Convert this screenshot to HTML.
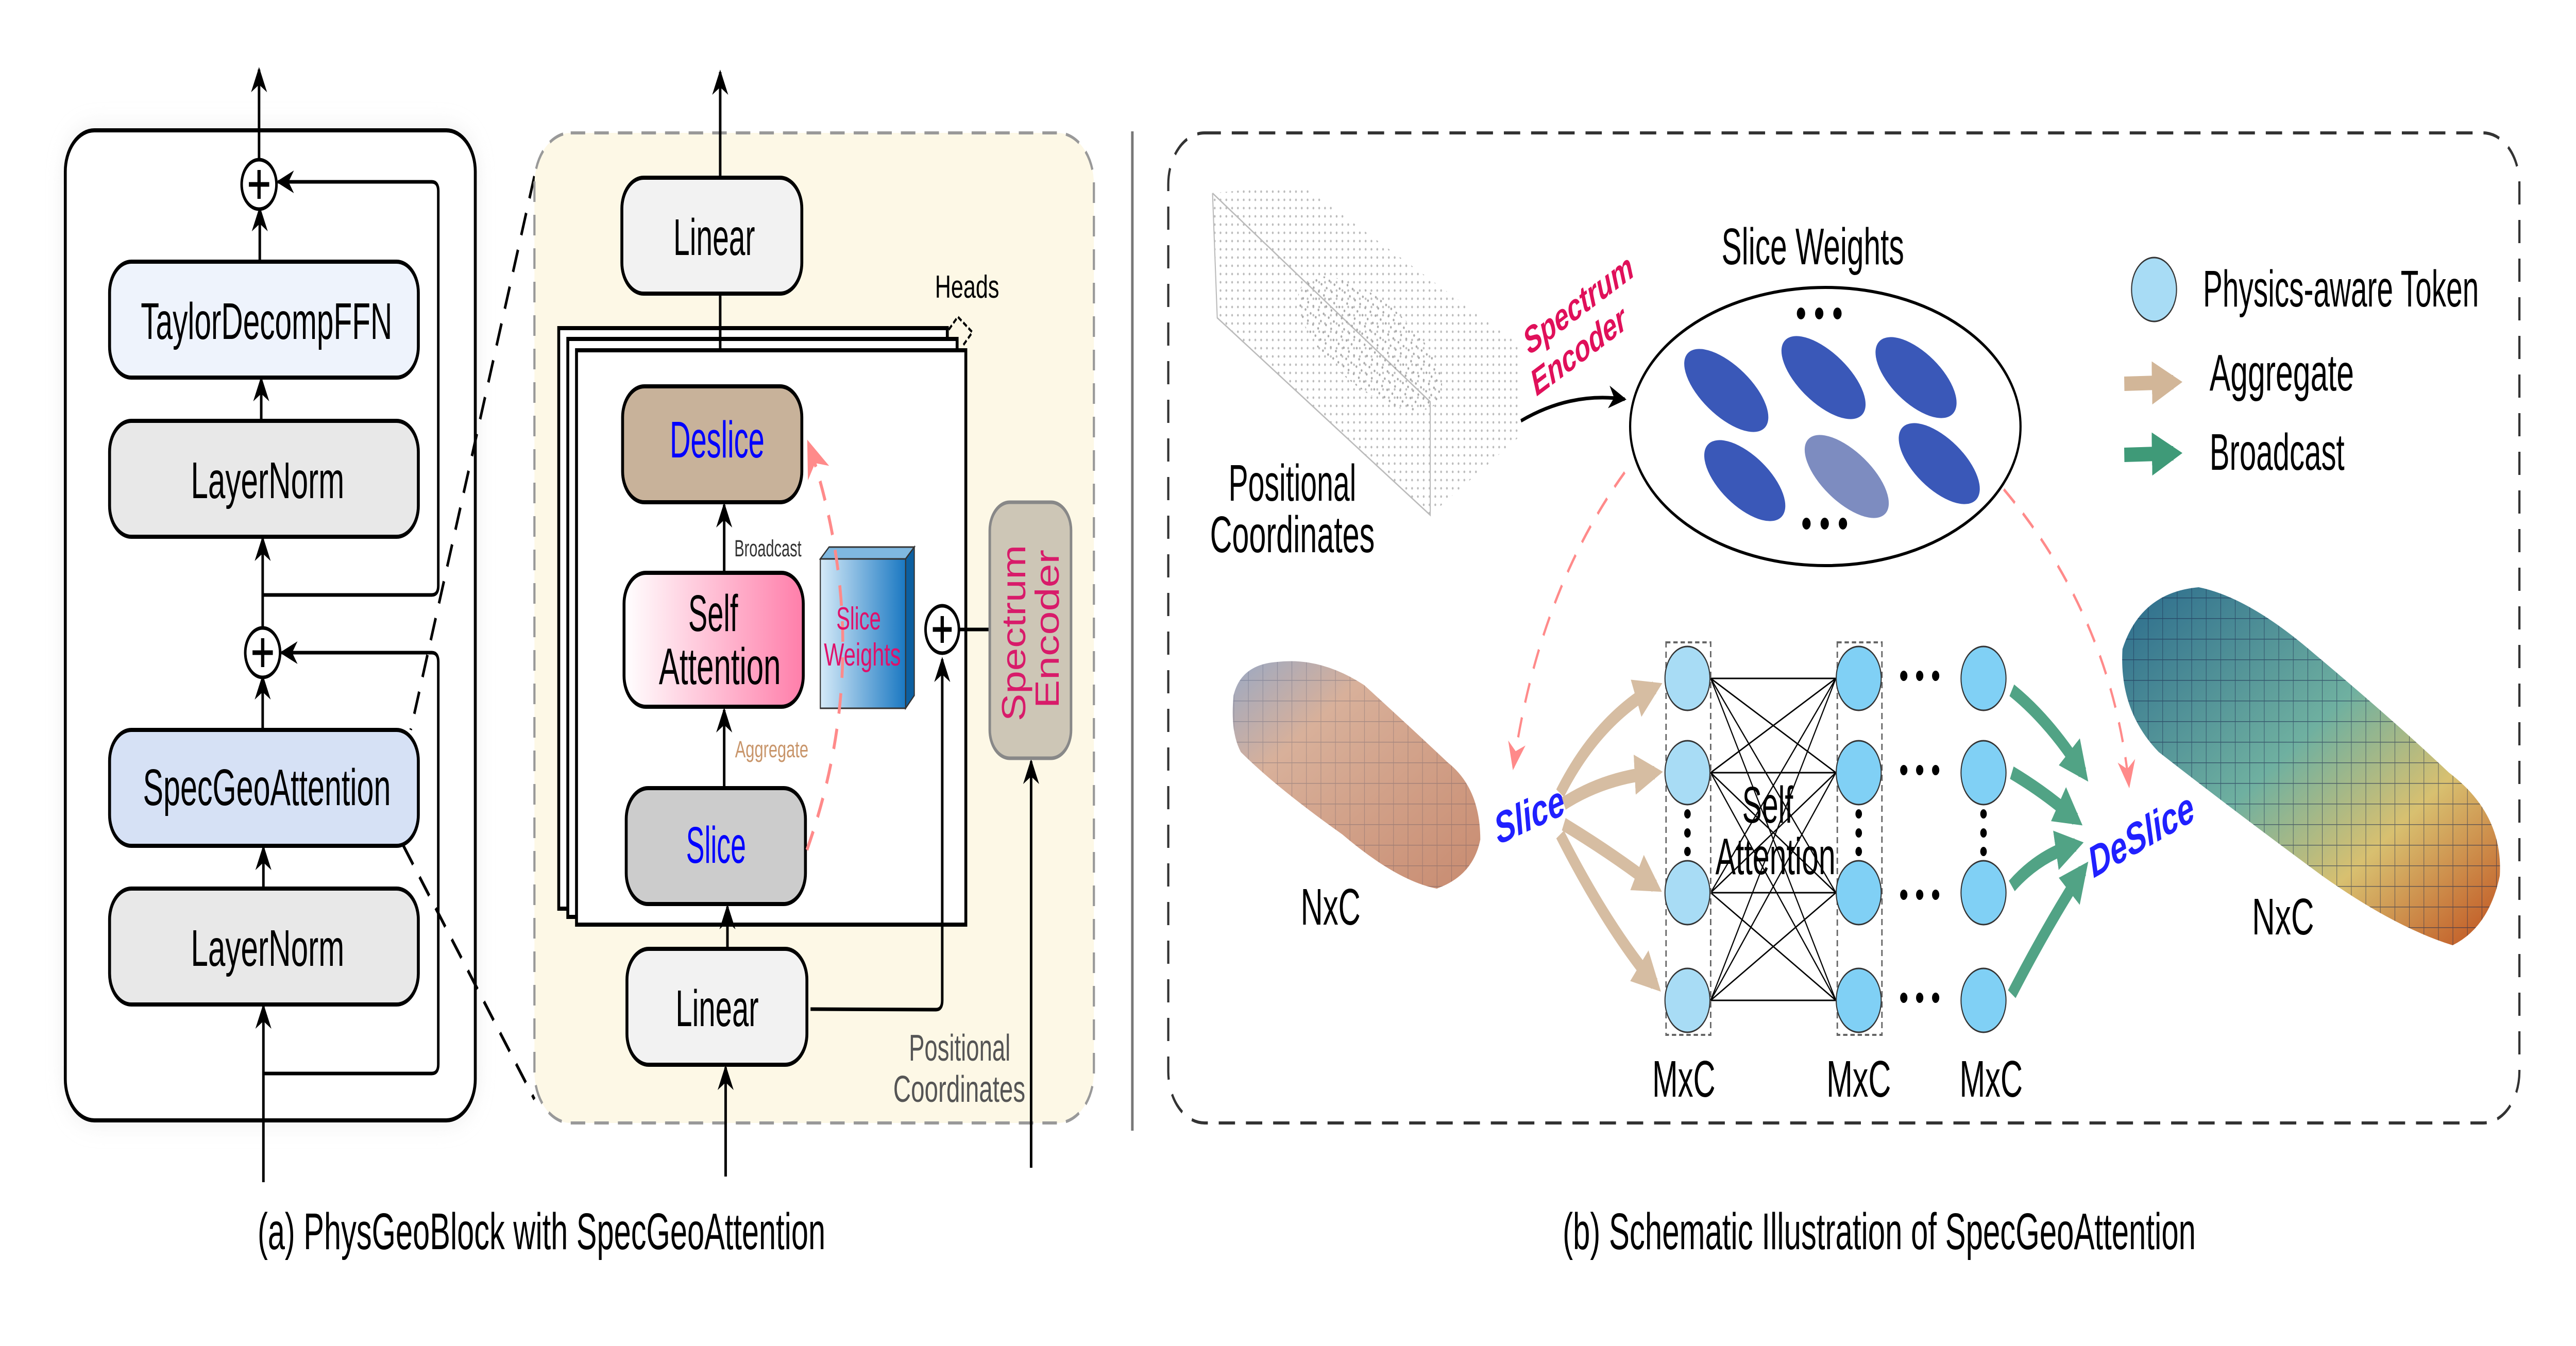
<!DOCTYPE html>
<html><head><meta charset="utf-8"><style>
html,body{margin:0;padding:0;background:#fff;width:100%;height:100%;overflow:hidden;}
svg{display:block;width:100%;height:100%;}
text{font-family:"Liberation Sans",sans-serif;}
</style></head><body>
<svg viewBox="0 0 7100 2613" preserveAspectRatio="none" xmlns="http://www.w3.org/2000/svg">
<defs>
<marker id="ah" viewBox="0 0 20 20" refX="18" refY="10" markerWidth="7" markerHeight="7" orient="auto" markerUnits="strokeWidth">
<path d="M0,1 L20,10 L0,19 L6,10 Z" fill="#000"/></marker>
<marker id="ahp" viewBox="0 0 20 20" refX="18" refY="10" markerWidth="9" markerHeight="9" orient="auto" markerUnits="strokeWidth">
<path d="M0,1 L20,10 L0,19 L6,10 Z" fill="#ff8a8a"/></marker>
<marker id="aht" viewBox="0 0 20 20" refX="14" refY="10" markerWidth="3" markerHeight="3" orient="auto" markerUnits="strokeWidth">
<path d="M0,0 L20,10 L0,20 Z" fill="#d2b698"/></marker>
<marker id="ahg" viewBox="0 0 20 20" refX="14" refY="10" markerWidth="3" markerHeight="3" orient="auto" markerUnits="strokeWidth">
<path d="M0,0 L20,10 L0,20 Z" fill="#3f9a78"/></marker>
<linearGradient id="sa" x1="0" x2="1" y1="0" y2="0"><stop offset="0" stop-color="#fff"/><stop offset="1" stop-color="#ff7eaa"/></linearGradient>
<linearGradient id="cube" x1="0" x2="1"><stop offset="0" stop-color="#d5eaf8"/><stop offset="1" stop-color="#1a78c2"/></linearGradient>
<linearGradient id="car1" x1="0" x2="1" y1="0" y2="1"><stop offset="0" stop-color="#9aa9c4"/><stop offset="0.3" stop-color="#d8b09a"/><stop offset="1" stop-color="#c88b70"/></linearGradient>
<linearGradient id="car2" x1="0" x2="1" y1="0" y2="1"><stop offset="0" stop-color="#2a6a8c"/><stop offset="0.45" stop-color="#6fb0a0"/><stop offset="0.7" stop-color="#d8c070"/><stop offset="1" stop-color="#c0501e"/></linearGradient>
<pattern id="dots" width="16" height="16" patternUnits="userSpaceOnUse"><circle cx="4" cy="4" r="2.5" fill="#aaa"/></pattern>
<pattern id="mesh" width="40" height="40" patternUnits="userSpaceOnUse"><path d="M0,0 L40,0 M0,0 L0,40" stroke="#1c2a50" stroke-width="3" opacity="0.6"/></pattern>
<filter id="sh" x="-10%" y="-10%" width="120%" height="120%"><feGaussianBlur stdDeviation="25"/></filter>
</defs>

<rect x="180" y="253" width="1130" height="1922" rx="80" fill="#ddd" filter="url(#sh)" opacity="0.6"/>
<rect x="180" y="253" width="1130" height="1922" rx="80" fill="#fff" stroke="#000" stroke-width="8"/>
<g stroke="#000" stroke-width="7" fill="none">
<line x1="714" y1="316" x2="714" y2="135" marker-end="url(#ah)"/>
<line x1="716" y1="508" x2="716" y2="405" marker-end="url(#ah)"/>
<line x1="720" y1="817" x2="720" y2="735" marker-end="url(#ah)"/>
<line x1="724" y1="1417" x2="724" y2="1314" marker-end="url(#ah)"/>
<line x1="726" y1="1725" x2="726" y2="1645" marker-end="url(#ah)"/>
<line x1="724" y1="1221" x2="724" y2="1045" marker-end="url(#ah)"/>
<line x1="726" y1="2295" x2="726" y2="1953" marker-end="url(#ah)"/>
<path d="M726,2084 H1190 Q1208,2084 1208,2066 V1285 Q1208,1267 1190,1267 H776" marker-end="url(#ah)"/>
<path d="M726,1155 H1190 Q1208,1155 1208,1137 V371 Q1208,353 1190,353 H766" marker-end="url(#ah)"/>
</g>
<g stroke="#000" stroke-width="7">
<circle cx="714" cy="358" r="48" fill="#fff"/><line x1="686" y1="358" x2="742" y2="358" stroke-width="9"/><line x1="714" y1="330" x2="714" y2="386" stroke-width="9"/>
<circle cx="724" cy="1267" r="48" fill="#fff"/><line x1="696" y1="1267" x2="752" y2="1267" stroke-width="9"/><line x1="724" y1="1239" x2="724" y2="1295" stroke-width="9"/>
</g>
<g stroke="#000" stroke-width="8">
<rect x="302" y="508" width="851" height="225" rx="60" fill="#eef3fc"/>
<rect x="302" y="817" width="851" height="225" rx="60" fill="#e8e8e8"/>
<rect x="302" y="1417" width="851" height="225" rx="60" fill="#d6e1f5"/>
<rect x="302" y="1725" width="851" height="225" rx="60" fill="#e8e8e8"/>
</g>
<g font-size="100" fill="#000">
<text x="388" y="658" textLength="693" lengthAdjust="spacingAndGlyphs">TaylorDecompFFN</text>
<text x="526" y="967" textLength="423" lengthAdjust="spacingAndGlyphs">LayerNorm</text>
<text x="394" y="1563" textLength="683" lengthAdjust="spacingAndGlyphs">SpecGeoAttention</text>
<text x="526" y="1875" textLength="423" lengthAdjust="spacingAndGlyphs">LayerNorm</text>
</g>
<g stroke="#000" stroke-width="7" stroke-dasharray="45,30" fill="none">
<line x1="1473" y1="342" x2="1132" y2="1417"/>
<line x1="1112" y1="1642" x2="1473" y2="2134"/>
</g>

<rect x="1473" y="258" width="1542" height="1922" rx="100" fill="#fdf8e6" stroke="#999" stroke-width="6" stroke-dasharray="40,25"/>
<g stroke="#000" stroke-width="8" fill="#fff">
<rect x="1540" y="637" width="1071" height="1127"/>
<rect x="1565" y="658" width="1073" height="1122"/>
<rect x="1589" y="680" width="1073" height="1115"/>
</g>
<g stroke="#000" stroke-width="7" fill="none">
<line x1="1985" y1="683" x2="1985" y2="140" marker-end="url(#ah)"/>
<line x1="1996" y1="1112" x2="1996" y2="980" marker-end="url(#ah)"/>
<line x1="1996" y1="1530" x2="1996" y2="1378" marker-end="url(#ah)"/>
<line x1="2005" y1="1842" x2="2005" y2="1760" marker-end="url(#ah)"/>
<line x1="2000" y1="2284" x2="2000" y2="2072" marker-end="url(#ah)"/>
<path d="M2234,1959 L2580,1960 Q2597,1960 2597,1942 V1280" marker-end="url(#ah)"/>
<line x1="2645" y1="1222" x2="2728" y2="1222"/>
<line x1="2842" y1="2267" x2="2842" y2="1478" marker-end="url(#ah)"/>
<path d="M2615,640 l25,-25 l40,30 l-25,25" stroke-width="5" stroke-dasharray="12,6"/>
</g>
<g stroke="#000" stroke-width="8">
<rect x="1714" y="345" width="496" height="225" rx="60" fill="#f2f2f2"/>
<rect x="1716" y="750" width="494" height="225" rx="60" fill="#c8b29a"/>
<rect x="1720" y="1112" width="494" height="260" rx="60" fill="url(#sa)"/>
<rect x="1726" y="1530" width="494" height="225" rx="60" fill="#cccccc"/>
<rect x="1728" y="1842" width="496" height="225" rx="60" fill="#f2f2f2"/>
</g>
<polygon points="2261,1085 2285,1062 2520,1062 2496,1085" fill="#7fb8e0" stroke="#333" stroke-width="3"/>
<polygon points="2496,1085 2520,1062 2520,1350 2496,1375" fill="#0c5fa0" stroke="#333" stroke-width="3"/>
<rect x="2261" y="1085" width="235" height="290" fill="url(#cube)" stroke="#333" stroke-width="3"/>
<circle cx="2597" cy="1222" r="46" fill="#fff" stroke="#000" stroke-width="7"/>
<line x1="2571" y1="1222" x2="2623" y2="1222" stroke="#000" stroke-width="9"/><line x1="2597" y1="1196" x2="2597" y2="1248" stroke="#000" stroke-width="9"/>
<rect x="2728" y="975" width="224" height="497" rx="55" fill="#cdc6b6" stroke="#888" stroke-width="7"/>
<path d="M2224,1650 Q2420,1260 2228,860" fill="none" stroke="#ff8a8a" stroke-width="8" stroke-dasharray="40,30" marker-end="url(#ahp)"/>
<g fill="#000">
<text x="1856" y="495" font-size="100" textLength="225" lengthAdjust="spacingAndGlyphs">Linear</text>
<text x="1846" y="888" font-size="100" fill="#0000ff" textLength="261" lengthAdjust="spacingAndGlyphs">Deslice</text>
<text x="1897" y="1225" font-size="100" textLength="137" lengthAdjust="spacingAndGlyphs">Self</text>
<text x="1816" y="1328" font-size="100" textLength="336" lengthAdjust="spacingAndGlyphs">Attention</text>
<text x="1891" y="1675" font-size="100" fill="#0000ff" textLength="165" lengthAdjust="spacingAndGlyphs">Slice</text>
<text x="1862" y="1992" font-size="100" textLength="229" lengthAdjust="spacingAndGlyphs">Linear</text>
<text x="2024" y="1080" font-size="45" fill="#333" textLength="185" lengthAdjust="spacingAndGlyphs">Broadcast</text>
<text x="2026" y="1470" font-size="45" fill="#c8956a" textLength="202" lengthAdjust="spacingAndGlyphs">Aggregate</text>
<text x="2305" y="1222" font-size="62" fill="#e0106a" textLength="123" lengthAdjust="spacingAndGlyphs">Slice</text>
<text x="2271" y="1292" font-size="62" fill="#e0106a" textLength="212" lengthAdjust="spacingAndGlyphs">Weights</text>
<text x="2577" y="578" font-size="62" textLength="177" lengthAdjust="spacingAndGlyphs">Heads</text>
<text transform="translate(2826,1229) rotate(-90)" text-anchor="middle" font-size="92" fill="#d81b6a" textLength="342" lengthAdjust="spacingAndGlyphs">Spectrum</text>
<text transform="translate(2918,1221) rotate(-90)" text-anchor="middle" font-size="92" fill="#d81b6a" textLength="308" lengthAdjust="spacingAndGlyphs">Encoder</text>
<text x="2505" y="2059" font-size="72" fill="#555" textLength="280" lengthAdjust="spacingAndGlyphs">Positional</text>
<text x="2462" y="2139" font-size="72" fill="#555" textLength="364" lengthAdjust="spacingAndGlyphs">Coordinates</text>
<text x="710" y="2425" font-size="100" textLength="1565" lengthAdjust="spacingAndGlyphs">(a) PhysGeoBlock with SpecGeoAttention</text>
</g>

<line x1="3121" y1="255" x2="3121" y2="2195" stroke="#777" stroke-width="7"/>

<rect x="3220" y="258" width="3724" height="1922" rx="100" fill="none" stroke="#333" stroke-width="6" stroke-dasharray="45,30"/>
<polygon points="3342,375 3585,358 4184,667 4184,850 3942,1000 3355,617" fill="url(#dots)" opacity="0.8"/>
<polyline points="3342,375 3355,617 3942,1000 3942,780 3342,375" fill="none" stroke="#bbb" stroke-width="3"/>
<ellipse cx="3776" cy="667" rx="220" ry="90" transform="rotate(28 3776 667)" fill="url(#dots)"/>
<path d="M4192,817 Q4330,760 4478,775" fill="none" stroke="#000" stroke-width="7" marker-end="url(#ah)"/>
<text transform="translate(4215,690) rotate(-28)" font-size="72" font-style="italic" font-weight="bold" fill="#e0105a">Spectrum</text>
<text transform="translate(4235,770) rotate(-28)" font-size="72" font-style="italic" font-weight="bold" fill="#e0105a">Encoder</text>
<text x="3386" y="972" font-size="100" textLength="352" lengthAdjust="spacingAndGlyphs">Positional</text>
<text x="3335" y="1072" font-size="100" textLength="454" lengthAdjust="spacingAndGlyphs">Coordinates</text>
<ellipse cx="5031" cy="828" rx="538" ry="270" fill="#fff" stroke="#000" stroke-width="6"/>
<text x="4745" y="513" font-size="100" textLength="503" lengthAdjust="spacingAndGlyphs">Slice Weights</text>
<text x="4950" y="635" font-size="80" font-weight="bold">• • •</text>
<text x="4965" y="1043" font-size="80" font-weight="bold">• • •</text>
<g fill="#3a58b8">
<ellipse cx="4758" cy="758" rx="130" ry="55" transform="rotate(30 4758 758)"/>
<ellipse cx="5026" cy="733" rx="130" ry="55" transform="rotate(30 5026 733)"/>
<ellipse cx="5281" cy="733" rx="125" ry="55" transform="rotate(30 5281 733)"/>
<ellipse cx="4809" cy="933" rx="125" ry="55" transform="rotate(30 4809 933)"/>
<ellipse cx="5090" cy="925" rx="130" ry="55" transform="rotate(30 5090 925)" fill="#7d8cc0"/>
<ellipse cx="5345" cy="900" rx="125" ry="55" transform="rotate(30 5345 900)"/>
</g>
<ellipse cx="5937" cy="562" rx="62" ry="62" fill="#a8dcf5" stroke="#333" stroke-width="3"/>
<text x="6072" y="595" font-size="100" textLength="760" lengthAdjust="spacingAndGlyphs">Physics-aware Token</text>
<line x1="5855" y1="745" x2="5990" y2="742" stroke="#d2b698" stroke-width="28" marker-end="url(#aht)"/>
<text x="6090" y="758" font-size="100" textLength="398" lengthAdjust="spacingAndGlyphs">Aggregate</text>
<line x1="5855" y1="883" x2="5990" y2="880" stroke="#3f9a78" stroke-width="28" marker-end="url(#ahg)"/>
<text x="6090" y="912" font-size="100" textLength="372" lengthAdjust="spacingAndGlyphs">Broadcast</text>
<path d="M3400,1350 Q3420,1290 3520,1285 Q3640,1275 3760,1330 Q3900,1420 3990,1480 Q4080,1530 4080,1630 Q4060,1700 3960,1725 Q3850,1710 3700,1620 Q3520,1530 3420,1460 Q3390,1420 3400,1350 Z" fill="url(#car1)"/>
<path d="M3400,1350 Q3420,1290 3520,1285 Q3640,1275 3760,1330 Q3900,1420 3990,1480 Q4080,1530 4080,1630 Q4060,1700 3960,1725 Q3850,1710 3700,1620 Q3520,1530 3420,1460 Q3390,1420 3400,1350 Z" fill="url(#mesh)" opacity="0.4"/>
<text x="3585" y="1795" font-size="100" textLength="165" lengthAdjust="spacingAndGlyphs">NxC</text>
<text transform="translate(4130,1640) rotate(-18)" font-size="85" font-style="italic" font-weight="bold" fill="#2020ff">Slice</text>
<path d="M5850,1260 Q5900,1150 6060,1140 Q6200,1160 6380,1270 Q6600,1400 6750,1500 Q6900,1580 6890,1700 Q6860,1800 6760,1835 Q6600,1800 6400,1700 Q6150,1570 5950,1460 Q5840,1380 5850,1260 Z" fill="url(#car2)"/>
<path d="M5850,1260 Q5900,1150 6060,1140 Q6200,1160 6380,1270 Q6600,1400 6750,1500 Q6900,1580 6890,1700 Q6860,1800 6760,1835 Q6600,1800 6400,1700 Q6150,1570 5950,1460 Q5840,1380 5850,1260 Z" fill="url(#mesh)"/>
<text x="6207" y="1814" font-size="100" textLength="171" lengthAdjust="spacingAndGlyphs">NxC</text>
<path d="M4478,917 Q4240,1150 4171,1490" fill="none" stroke="#ff8a8a" stroke-width="6" stroke-dasharray="40,30" marker-end="url(#ahp)"/>
<path d="M5523,950 Q5820,1200 5868,1525" fill="none" stroke="#ff8a8a" stroke-width="6" stroke-dasharray="40,30" marker-end="url(#ahp)"/>
<g stroke="#000" stroke-width="3">
<line x1="4715" y1="1317" x2="5060" y2="1317"/><line x1="4715" y1="1317" x2="5060" y2="1500"/><line x1="4715" y1="1317" x2="5060" y2="1733"/><line x1="4715" y1="1317" x2="5060" y2="1942"/>
<line x1="4715" y1="1500" x2="5060" y2="1317"/><line x1="4715" y1="1500" x2="5060" y2="1500"/><line x1="4715" y1="1500" x2="5060" y2="1733"/><line x1="4715" y1="1500" x2="5060" y2="1942"/>
<line x1="4715" y1="1733" x2="5060" y2="1317"/><line x1="4715" y1="1733" x2="5060" y2="1500"/><line x1="4715" y1="1733" x2="5060" y2="1733"/><line x1="4715" y1="1733" x2="5060" y2="1942"/>
<line x1="4715" y1="1942" x2="5060" y2="1317"/><line x1="4715" y1="1942" x2="5060" y2="1500"/><line x1="4715" y1="1942" x2="5060" y2="1733"/><line x1="4715" y1="1942" x2="5060" y2="1942"/>
</g>
<g fill="none" stroke="#666" stroke-width="4" stroke-dasharray="12,8">
<rect x="4592" y="1247" width="123" height="762"/><rect x="5064" y="1247" width="123" height="762"/>
</g>
<g stroke="#333" stroke-width="3">
<g fill="#a8dcf5">
<ellipse cx="4651" cy="1317" rx="62" ry="62"/><ellipse cx="4651" cy="1500" rx="62" ry="62"/><ellipse cx="4651" cy="1733" rx="62" ry="62"/><ellipse cx="4651" cy="1942" rx="62" ry="62"/>
</g>
<g fill="#80d0f5">
<ellipse cx="5123" cy="1317" rx="62" ry="62"/><ellipse cx="5123" cy="1500" rx="62" ry="62"/><ellipse cx="5123" cy="1733" rx="62" ry="62"/><ellipse cx="5123" cy="1942" rx="62" ry="62"/>
<ellipse cx="5467" cy="1317" rx="62" ry="62"/><ellipse cx="5467" cy="1500" rx="62" ry="62"/><ellipse cx="5467" cy="1733" rx="62" ry="62"/><ellipse cx="5467" cy="1942" rx="62" ry="62"/>
</g></g>
<g fill="#000">
<circle cx="4651" cy="1580" r="9"/><circle cx="4651" cy="1617" r="9"/><circle cx="4651" cy="1653" r="9"/>
<circle cx="5123" cy="1580" r="9"/><circle cx="5123" cy="1617" r="9"/><circle cx="5123" cy="1653" r="9"/>
<circle cx="5467" cy="1580" r="9"/><circle cx="5467" cy="1617" r="9"/><circle cx="5467" cy="1653" r="9"/>
<text x="5235" y="1335" font-size="70" font-weight="bold">• • •</text>
<text x="5235" y="1518" font-size="70" font-weight="bold">• • •</text>
<text x="5235" y="1760" font-size="70" font-weight="bold">• • •</text>
<text x="5235" y="1960" font-size="70" font-weight="bold">• • •</text>
</g>
<text x="4802" y="1597" font-size="100" textLength="140" lengthAdjust="spacingAndGlyphs">Self</text>
<text x="4728" y="1697" font-size="100" textLength="331" lengthAdjust="spacingAndGlyphs">Attention</text>
<text x="4554" y="2129" font-size="100" textLength="174" lengthAdjust="spacingAndGlyphs">MxC</text>
<text x="5034" y="2129" font-size="100" textLength="178" lengthAdjust="spacingAndGlyphs">MxC</text>
<text x="5401" y="2129" font-size="100" textLength="174" lengthAdjust="spacingAndGlyphs">MxC</text>
<g stroke="#d2b698" stroke-width="26" fill="none" marker-end="url(#aht)" opacity="0.9">
<path d="M4300,1540 Q4400,1400 4560,1335"/>
<path d="M4310,1560 Q4420,1510 4560,1500"/>
<path d="M4310,1600 Q4450,1660 4560,1720"/>
<path d="M4300,1620 Q4430,1800 4560,1910"/>
</g>
<g stroke="#3f9a78" stroke-width="26" fill="none" marker-end="url(#ahg)" opacity="0.9">
<path d="M5545,1340 Q5650,1400 5740,1500"/>
<path d="M5545,1500 Q5640,1540 5720,1590"/>
<path d="M5545,1720 Q5620,1660 5720,1640"/>
<path d="M5545,1930 Q5640,1800 5740,1690"/>
</g>
<text transform="translate(5770,1705) rotate(-22)" font-size="85" font-style="italic" font-weight="bold" fill="#2020ff">DeSlice</text>
<text x="4307" y="2425" font-size="100" textLength="1745" lengthAdjust="spacingAndGlyphs">(b) Schematic Illustration of SpecGeoAttention</text>
</svg>
</body></html>
